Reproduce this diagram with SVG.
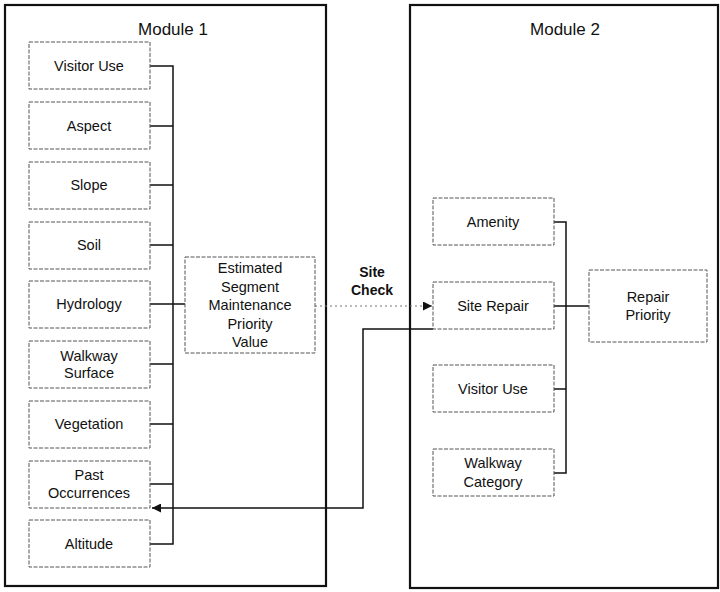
<svg xmlns="http://www.w3.org/2000/svg" width="720" height="592" viewBox="0 0 720 592">
<style>
.mod{fill:#fff;stroke:#111;stroke-width:2.2}
.box{fill:#fff;stroke:#555;stroke-width:1;stroke-dasharray:4 1.5}
.t{font-family:"Liberation Sans",Arial,sans-serif;font-size:14.5px;fill:#111;text-anchor:middle}
.title{font-family:"Liberation Sans",Arial,sans-serif;font-size:17px;fill:#111;text-anchor:middle}
.b{font-weight:bold;font-size:14px}
.c{fill:none;stroke:#111;stroke-width:1.5}
.d{fill:none;stroke:#777;stroke-width:1.2;stroke-dasharray:2 3}
</style>
<defs>
<marker id="ah" viewBox="0 0 10 10" refX="10" refY="5" markerWidth="9" markerHeight="9" markerUnits="userSpaceOnUse" orient="auto">
<path d="M0,0 L10,5 L0,10 Z" fill="#111"/>
</marker>
</defs>
<rect width="720" height="592" fill="#fff"/>
<g id="module1">
<rect class="mod" x="5" y="5" width="321" height="581"/>
<text class="title" x="173" y="35">Module 1</text>
</g>
<g id="module2">
<rect class="mod" x="410" y="5" width="308" height="583"/>
<text class="title" x="565" y="35">Module 2</text>
</g>
<g id="connectors">
<path class="c" d="M150,66 H173 V544 H150"/>
<path class="c" d="M150,126 H173 M150,185 H173 M150,245 H173 M150,304 H185 M150,364 H173 M150,424 H173 M150,484 H173"/>
<path class="c" d="M554,222 H566 V473 H554 M554,389 H566 M554,306 H589"/>
<path class="d" d="M315,306 H432" marker-end="url(#ah)"/>
<path class="c" d="M433,329 H363 V508 H152" marker-end="url(#ah)"/>
<text class="t b" x="372" y="277">Site</text>
<text class="t b" x="372" y="295">Check</text>
</g>
<g id="visitor-use-1"><rect class="box" x="29" y="42" width="121" height="47"/><text class="t" x="89" y="71">Visitor Use</text></g>
<g id="aspect"><rect class="box" x="29" y="102" width="121" height="47"/><text class="t" x="89" y="131">Aspect</text></g>
<g id="slope"><rect class="box" x="29" y="162" width="121" height="47"/><text class="t" x="89" y="190">Slope</text></g>
<g id="soil"><rect class="box" x="29" y="222" width="121" height="47"/><text class="t" x="89" y="250">Soil</text></g>
<g id="hydrology"><rect class="box" x="29" y="281" width="121" height="47"/><text class="t" x="89" y="309">Hydrology</text></g>
<g id="walkway-surface"><rect class="box" x="29" y="341" width="121" height="47"/><text class="t" x="89" y="361">Walkway</text><text class="t" x="89" y="378">Surface</text></g>
<g id="vegetation"><rect class="box" x="29" y="401" width="121" height="47"/><text class="t" x="89" y="429">Vegetation</text></g>
<g id="past-occurrences"><rect class="box" x="29" y="461" width="121" height="47"/><text class="t" x="89" y="480">Past</text><text class="t" x="89" y="498">Occurrences</text></g>
<g id="altitude"><rect class="box" x="29" y="520" width="121" height="47"/><text class="t" x="89" y="549">Altitude</text></g>
<g id="estimated"><rect class="box" x="185" y="257" width="130" height="96"/>
<text class="t" x="250" y="273">Estimated</text>
<text class="t" x="250" y="292">Segment</text>
<text class="t" x="250" y="310">Maintenance</text>
<text class="t" x="250" y="329">Priority</text>
<text class="t" x="250" y="347">Value</text></g>
<g id="amenity"><rect class="box" x="433" y="198" width="121" height="47"/><text class="t" x="493" y="227">Amenity</text></g>
<g id="site-repair"><rect class="box" x="433" y="282" width="121" height="47"/><text class="t" x="493" y="311">Site Repair</text></g>
<g id="visitor-use-2"><rect class="box" x="433" y="365" width="121" height="47"/><text class="t" x="493" y="394">Visitor Use</text></g>
<g id="walkway-category"><rect class="box" x="433" y="449" width="121" height="47"/><text class="t" x="493" y="468">Walkway</text><text class="t" x="493" y="487">Category</text></g>
<g id="repair-priority"><rect class="box" x="589" y="270" width="118" height="72"/><text class="t" x="648" y="302">Repair</text><text class="t" x="648" y="320">Priority</text></g>
</svg>
